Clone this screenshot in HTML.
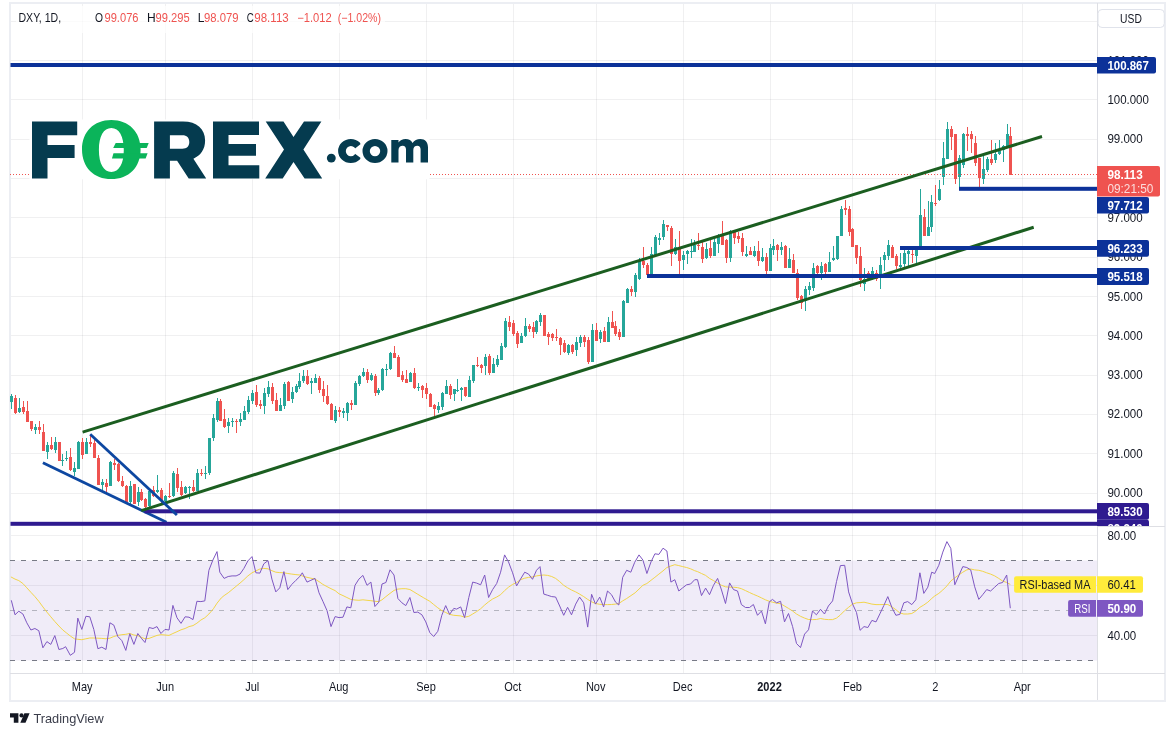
<!DOCTYPE html>
<html><head><meta charset="utf-8"><title>DXY 1D</title>
<style>html,body{margin:0;padding:0;background:#fff;}body{width:1175px;height:736px;overflow:hidden;font-family:"Liberation Sans", sans-serif;}</style>
</head><body>
<svg width="1175" height="736" viewBox="0 0 1175 736" style="display:block;font-family:'Liberation Sans',sans-serif;will-change:transform">
<rect width="1175" height="736" fill="#fff"/>
<g stroke="#2a2e39" stroke-opacity="0.07" stroke-width="1">
<line x1="82.5" y1="3" x2="82.5" y2="673"/>
<line x1="165.5" y1="3" x2="165.5" y2="673"/>
<line x1="252.5" y1="3" x2="252.5" y2="673"/>
<line x1="339.5" y1="3" x2="339.5" y2="673"/>
<line x1="426.5" y1="3" x2="426.5" y2="673"/>
<line x1="513.5" y1="3" x2="513.5" y2="673"/>
<line x1="596.5" y1="3" x2="596.5" y2="673"/>
<line x1="683.5" y1="3" x2="683.5" y2="673"/>
<line x1="770.5" y1="3" x2="770.5" y2="673"/>
<line x1="852.5" y1="3" x2="852.5" y2="673"/>
<line x1="935.5" y1="3" x2="935.5" y2="673"/>
<line x1="1022.5" y1="3" x2="1022.5" y2="673"/>
<line x1="10" y1="21.5" x2="1097" y2="21.5"/>
<line x1="10" y1="60.5" x2="1097" y2="60.5"/>
<line x1="10" y1="99.5" x2="1097" y2="99.5"/>
<line x1="10" y1="139.5" x2="1097" y2="139.5"/>
<line x1="10" y1="178.5" x2="1097" y2="178.5"/>
<line x1="10" y1="217.5" x2="1097" y2="217.5"/>
<line x1="10" y1="257.5" x2="1097" y2="257.5"/>
<line x1="10" y1="296.5" x2="1097" y2="296.5"/>
<line x1="10" y1="335.5" x2="1097" y2="335.5"/>
<line x1="10" y1="375.5" x2="1097" y2="375.5"/>
<line x1="10" y1="414.5" x2="1097" y2="414.5"/>
<line x1="10" y1="453.5" x2="1097" y2="453.5"/>
<line x1="10" y1="493.5" x2="1097" y2="493.5"/>
<line x1="10" y1="535.5" x2="1097" y2="535.5"/>
<line x1="10" y1="585.5" x2="1097" y2="585.5"/>
<line x1="10" y1="635.5" x2="1097" y2="635.5"/>
</g>
<rect x="10" y="3" width="1155" height="698" fill="none" stroke="#eceef3" stroke-width="2"/>
<rect x="10.5" y="560.5" width="1086.5" height="100" fill="#7e57c2" fill-opacity="0.115"/>
<g stroke-width="1" fill="none" shape-rendering="crispEdges">
<line x1="10.2" y1="560.5" x2="1094" y2="560.5" stroke="#787b86" stroke-dasharray="5 6"/>
<line x1="10.2" y1="660.5" x2="1094" y2="660.5" stroke="#787b86" stroke-dasharray="5 6"/>
<line x1="10.2" y1="610.5" x2="1094" y2="610.5" stroke="#787b86" stroke-opacity="0.5" stroke-dasharray="5 6"/>
</g>
<rect x="16" y="6" width="369" height="27" fill="#fff" fill-opacity="0.7"/>
<path d="M11,394h1v15h-1zM10,396h3v6h-3zM19,398h1v15h-1zM18,408h3v4h-3zM35,424h1v10h-1zM34,427h3v3h-3zM47,442h1v17h-1zM46,445h3v7h-3zM55,437h1v16h-1zM54,442h3v8h-3zM62,454h1v12h-1zM61,460h3v1h-3zM66,451h1v10h-1zM65,458h3v1h-3zM74,462h1v14h-1zM73,468h3v4h-3zM78,441h1v28h-1zM77,442h3v27h-3zM86,438h1v16h-1zM85,442h3v12h-3zM102,479h1v11h-1zM101,482h3v3h-3zM110,461h1v25h-1zM109,462h3v24h-3zM130,481h1v23h-1zM129,486h3v16h-3zM138,487h1v19h-1zM137,492h3v10h-3zM149,490h1v17h-1zM148,491h3v15h-3zM157,475h1v18h-1zM156,490h3v2h-3zM165,495h1v7h-1zM164,496h3v5h-3zM173,471h1v26h-1zM172,473h3v23h-3zM185,486h1v8h-1zM184,487h3v6h-3zM189,486h1v13h-1zM188,487h3v1h-3zM197,469h1v22h-1zM196,473h3v18h-3zM205,466h1v13h-1zM204,473h3v1h-3zM209,438h1v37h-1zM208,438h3v35h-3zM213,414h1v27h-1zM212,418h3v20h-3zM217,398h1v24h-1zM216,401h3v19h-3zM228,418h1v15h-1zM227,422h3v4h-3zM232,418h1v9h-1zM231,421h3v1h-3zM240,413h1v13h-1zM239,419h3v3h-3zM244,406h1v14h-1zM243,411h3v9h-3zM248,396h1v18h-1zM247,400h3v12h-3zM252,390h1v14h-1zM251,393h3v8h-3zM264,388h1v26h-1zM263,393h3v13h-3zM268,381h1v16h-1zM267,387h3v7h-3zM280,398h1v13h-1zM279,405h3v6h-3zM284,382h1v27h-1zM283,384h3v22h-3zM292,387h1v16h-1zM291,392h3v7h-3zM296,384h1v9h-1zM295,386h3v6h-3zM299,373h1v16h-1zM298,381h3v6h-3zM303,370h1v13h-1zM302,376h3v5h-3zM311,378h1v16h-1zM310,381h3v2h-3zM315,374h1v9h-1zM314,378h3v5h-3zM335,406h1v17h-1zM334,410h3v11h-3zM343,408h1v10h-1zM342,411h3v2h-3zM347,402h1v19h-1zM346,403h3v10h-3zM355,381h1v24h-1zM354,383h3v22h-3zM359,375h1v11h-1zM358,376h3v8h-3zM363,368h1v9h-1zM362,372h3v4h-3zM371,373h1v8h-1zM370,375h3v5h-3zM378,388h1v7h-1zM377,390h3v3h-3zM382,368h1v23h-1zM381,369h3v21h-3zM386,364h1v12h-1zM385,369h3v1h-3zM390,352h1v18h-1zM389,353h3v16h-3zM410,372h1v10h-1zM409,373h3v9h-3zM418,383h1v8h-1zM417,387h3v1h-3zM438,402h1v11h-1zM437,406h3v4h-3zM442,392h1v18h-1zM441,393h3v14h-3zM446,380h1v14h-1zM445,386h3v8h-3zM454,389h1v12h-1zM453,389h3v5h-3zM457,379h1v13h-1zM456,390h3v1h-3zM461,387h1v14h-1zM460,388h3v2h-3zM469,376h1v21h-1zM468,380h3v17h-3zM473,365h1v18h-1zM472,365h3v16h-3zM485,354h1v21h-1zM484,357h3v9h-3zM493,358h1v15h-1zM492,364h3v9h-3zM497,355h1v12h-1zM496,359h3v6h-3zM501,343h1v17h-1zM500,346h3v14h-3zM505,318h1v30h-1zM504,321h3v26h-3zM521,333h1v10h-1zM520,336h3v7h-3zM525,318h1v19h-1zM524,326h3v10h-3zM536,320h1v14h-1zM535,321h3v11h-3zM540,313h1v13h-1zM539,315h3v7h-3zM568,344h1v11h-1zM567,345h3v8h-3zM576,337h1v19h-1zM575,342h3v8h-3zM580,335h1v12h-1zM579,337h3v6h-3zM592,324h1v38h-1zM591,330h3v32h-3zM600,330h1v13h-1zM599,332h3v7h-3zM608,317h1v25h-1zM607,322h3v20h-3zM623,300h1v37h-1zM622,301h3v36h-3zM627,288h1v15h-1zM626,289h3v14h-3zM635,273h1v24h-1zM634,275h3v17h-3zM639,258h1v22h-1zM638,261h3v18h-3zM651,247h1v28h-1zM650,254h3v21h-3zM655,235h1v20h-1zM654,237h3v18h-3zM659,233h1v12h-1zM658,238h3v2h-3zM663,220h1v20h-1zM662,224h3v13h-3zM675,239h1v16h-1zM674,247h3v7h-3zM683,251h1v19h-1zM682,255h3v5h-3zM687,250h1v14h-1zM686,251h3v3h-3zM691,239h1v19h-1zM690,251h3v1h-3zM694,240h1v12h-1zM693,245h3v7h-3zM706,243h1v16h-1zM705,249h3v9h-3zM714,239h1v17h-1zM713,242h3v14h-3zM718,234h1v19h-1zM717,237h3v7h-3zM730,230h1v32h-1zM729,231h3v27h-3zM746,246h1v11h-1zM745,254h3v2h-3zM754,246h1v11h-1zM753,251h3v5h-3zM762,248h1v14h-1zM761,257h3v4h-3zM770,244h1v27h-1zM769,248h3v23h-3zM773,239h1v16h-1zM772,246h3v4h-3zM781,242h1v13h-1zM780,247h3v3h-3zM789,248h1v20h-1zM788,259h3v9h-3zM805,286h1v25h-1zM804,289h3v12h-3zM809,282h1v13h-1zM808,286h3v4h-3zM813,263h1v28h-1zM812,268h3v20h-3zM821,262h1v18h-1zM820,266h3v7h-3zM829,252h1v20h-1zM828,262h3v10h-3zM833,246h1v15h-1zM832,258h3v2h-3zM837,236h1v24h-1zM836,236h3v23h-3zM841,206h1v30h-1zM840,209h3v27h-3zM864,268h1v23h-1zM863,279h3v5h-3zM872,267h1v13h-1zM871,271h3v8h-3zM880,257h1v32h-1zM879,265h3v9h-3zM884,252h1v19h-1zM883,255h3v5h-3zM888,240h1v20h-1zM887,245h3v11h-3zM900,253h1v15h-1zM899,265h3v2h-3zM904,250h1v17h-1zM903,253h3v11h-3zM908,250h1v16h-1zM907,251h3v3h-3zM916,250h1v13h-1zM915,250h3v6h-3zM920,189h1v57h-1zM919,215h3v31h-3zM928,201h1v35h-1zM927,227h3v9h-3zM931,195h1v37h-1zM930,202h3v25h-3zM939,180h1v21h-1zM938,189h3v11h-3zM943,142h1v43h-1zM942,158h3v19h-3zM947,122h1v37h-1zM946,129h3v30h-3zM959,155h1v32h-1zM958,158h3v19h-3zM963,133h1v35h-1zM962,134h3v31h-3zM983,156h1v28h-1zM982,169h3v10h-3zM987,157h1v15h-1zM986,159h3v11h-3zM995,143h1v20h-1zM994,154h3v6h-3zM999,140h1v15h-1zM998,151h3v3h-3zM1003,145h1v17h-1zM1002,146h3v4h-3zM1007,124h1v22h-1zM1006,134h3v12h-3z" fill="#26a69a" shape-rendering="crispEdges"/>
<path d="M15,395h1v19h-1zM14,398h3v15h-3zM23,401h1v13h-1zM22,407h3v5h-3zM27,401h1v21h-1zM26,411h3v11h-3zM31,421h1v10h-1zM30,421h3v8h-3zM39,421h1v13h-1zM38,427h3v3h-3zM43,424h1v27h-1zM42,432h3v19h-3zM51,437h1v13h-1zM50,445h3v4h-3zM59,442h1v19h-1zM58,442h3v19h-3zM70,448h1v23h-1zM69,457h3v13h-3zM82,438h1v21h-1zM81,442h3v13h-3zM90,436h1v11h-1zM89,442h3v2h-3zM94,440h1v18h-1zM93,443h3v15h-3zM98,455h1v30h-1zM97,458h3v27h-3zM106,479h1v13h-1zM105,483h3v4h-3zM114,459h1v11h-1zM113,463h3v2h-3zM118,463h1v19h-1zM117,464h3v17h-3zM122,476h1v11h-1zM121,481h3v5h-3zM126,485h1v18h-1zM125,486h3v16h-3zM134,484h1v20h-1zM133,484h3v20h-3zM141,489h1v12h-1zM140,492h3v8h-3zM145,498h1v10h-1zM144,499h3v8h-3zM153,486h1v11h-1zM152,490h3v6h-3zM161,488h1v15h-1zM160,490h3v10h-3zM169,483h1v15h-1zM168,496h3v1h-3zM177,468h1v24h-1zM176,474h3v14h-3zM181,481h1v15h-1zM180,487h3v8h-3zM193,480h1v12h-1zM192,487h3v4h-3zM201,469h1v7h-1zM200,473h3v1h-3zM220,399h1v22h-1zM219,401h3v20h-3zM224,409h1v19h-1zM223,419h3v8h-3zM236,419h1v14h-1zM235,421h3v1h-3zM256,385h1v22h-1zM255,392h3v13h-3zM260,400h1v9h-1zM259,404h3v2h-3zM272,383h1v21h-1zM271,387h3v14h-3zM276,393h1v18h-1zM275,400h3v11h-3zM288,381h1v20h-1zM287,382h3v19h-3zM307,370h1v15h-1zM306,376h3v8h-3zM319,376h1v17h-1zM318,378h3v12h-3zM323,381h1v21h-1zM322,389h3v7h-3zM327,385h1v20h-1zM326,396h3v8h-3zM331,403h1v17h-1zM330,404h3v16h-3zM339,407h1v10h-1zM338,410h3v2h-3zM351,400h1v10h-1zM350,403h3v2h-3zM367,369h1v14h-1zM366,372h3v8h-3zM375,374h1v22h-1zM374,376h3v17h-3zM394,346h1v12h-1zM393,353h3v5h-3zM398,355h1v22h-1zM397,357h3v20h-3zM402,371h1v11h-1zM401,375h3v5h-3zM406,370h1v13h-1zM405,379h3v4h-3zM414,368h1v21h-1zM413,373h3v15h-3zM422,385h1v13h-1zM421,386h3v4h-3zM426,383h1v16h-1zM425,388h3v6h-3zM430,393h1v14h-1zM429,394h3v13h-3zM434,404h1v12h-1zM433,405h3v4h-3zM450,384h1v15h-1zM449,386h3v9h-3zM465,387h1v10h-1zM464,387h3v9h-3zM477,357h1v10h-1zM476,365h3v1h-3zM481,364h1v9h-1zM480,365h3v3h-3zM489,354h1v21h-1zM488,356h3v17h-3zM509,316h1v15h-1zM508,322h3v5h-3zM513,320h1v16h-1zM512,323h3v11h-3zM517,331h1v17h-1zM516,333h3v11h-3zM529,324h1v8h-1zM528,326h3v3h-3zM533,322h1v16h-1zM532,327h3v5h-3zM544,315h1v21h-1zM543,315h3v21h-3zM548,332h1v13h-1zM547,334h3v3h-3zM552,333h1v8h-1zM551,334h3v4h-3zM556,329h1v12h-1zM555,337h3v1h-3zM560,337h1v18h-1zM559,338h3v7h-3zM564,340h1v13h-1zM563,343h3v9h-3zM572,344h1v10h-1zM571,345h3v7h-3zM584,335h1v12h-1zM583,337h3v5h-3zM588,337h1v27h-1zM587,340h3v22h-3zM596,323h1v18h-1zM595,330h3v11h-3zM604,327h1v15h-1zM603,331h3v11h-3zM612,311h1v17h-1zM611,322h3v6h-3zM615,321h1v15h-1zM614,326h3v8h-3zM619,329h1v11h-1zM618,332h3v5h-3zM631,286h1v10h-1zM630,289h3v3h-3zM643,247h1v21h-1zM642,261h3v4h-3zM647,263h1v12h-1zM646,265h3v10h-3zM667,225h1v6h-1zM666,225h3v2h-3zM671,226h1v40h-1zM670,228h3v26h-3zM679,231h1v43h-1zM678,249h3v12h-3zM698,233h1v17h-1zM697,245h3v1h-3zM702,242h1v21h-1zM701,247h3v12h-3zM710,240h1v18h-1zM709,248h3v8h-3zM722,221h1v24h-1zM721,236h3v9h-3zM726,239h1v24h-1zM725,240h3v18h-3zM734,231h1v13h-1zM733,232h3v6h-3zM738,232h1v11h-1zM737,236h3v3h-3zM742,233h1v23h-1zM741,238h3v14h-3zM750,247h1v8h-1zM749,251h3v4h-3zM758,241h1v25h-1zM757,251h3v10h-3zM766,253h1v21h-1zM765,257h3v14h-3zM777,244h1v17h-1zM776,245h3v5h-3zM785,245h1v23h-1zM784,246h3v22h-3zM793,254h1v19h-1zM792,260h3v13h-3zM797,269h1v31h-1zM796,273h3v25h-3zM801,295h1v14h-1zM800,296h3v7h-3zM817,265h1v9h-1zM816,266h3v7h-3zM825,263h1v11h-1zM824,264h3v8h-3zM845,200h1v15h-1zM844,208h3v2h-3zM849,206h1v30h-1zM848,209h3v23h-3zM852,228h1v19h-1zM851,229h3v18h-3zM856,245h1v19h-1zM855,245h3v13h-3zM860,247h1v40h-1zM859,256h3v24h-3zM868,271h1v9h-1zM867,273h3v6h-3zM876,270h1v11h-1zM875,273h3v6h-3zM892,245h1v13h-1zM891,247h3v11h-3zM896,254h1v15h-1zM895,256h3v10h-3zM912,250h1v13h-1zM911,254h3v1h-3zM924,209h1v27h-1zM923,217h3v19h-3zM935,185h1v21h-1zM934,203h3v1h-3zM951,126h1v24h-1zM950,129h3v8h-3zM955,134h1v50h-1zM954,134h3v45h-3zM967,127h1v24h-1zM966,134h3v2h-3zM971,131h1v22h-1zM970,134h3v5h-3zM975,136h1v30h-1zM974,143h3v20h-3zM979,158h1v29h-1zM978,158h3v20h-3zM991,140h1v25h-1zM990,159h3v4h-3zM1010,127h1v48h-1zM1009,136h3v39h-3z" fill="#ef5350" shape-rendering="crispEdges"/>
<line x1="10" y1="174.5" x2="1097" y2="174.5" stroke="#ef5350" stroke-width="1" stroke-dasharray="1 2" shape-rendering="crispEdges"/>
<line x1="42.9" y1="462.8" x2="166.5" y2="522.3" stroke="#0d47a1" stroke-width="2.8"/>
<rect x="144.5" y="509.3" width="952.5" height="4" fill="#2f1b90"/>
<rect x="10.5" y="521.8" width="1086.5" height="4" fill="#2f1b90"/>
<line x1="82.6" y1="432.1" x2="1042" y2="136.5" stroke="#1b5e20" stroke-width="3"/>
<line x1="141.3" y1="510.6" x2="1033.7" y2="227.2" stroke="#1b5e20" stroke-width="3"/>
<rect x="10.5" y="63.0" width="1086.5" height="4" fill="#0c3299"/>
<rect x="959" y="186.8" width="138" height="4" fill="#0c3299"/>
<rect x="900" y="246.0" width="197" height="4" fill="#0c3299"/>
<rect x="647" y="274.0" width="450" height="4" fill="#0c3299"/>
<line x1="90.2" y1="434.3" x2="176.9" y2="515" stroke="#0d47a1" stroke-width="2.8"/>
<polyline points="10.9,576.9 15.0,579.1 18.8,580.6 22.9,583.5 26.8,587.8 30.9,592.3 34.9,596.6 38.8,601.3 42.9,606.9 46.9,612.1 50.8,616.8 54.8,621.5 58.9,626.0 62.8,630.0 66.8,633.2 70.3,636.0 74.5,638.8 77.8,639.3 81.8,639.7 85.9,638.8 89.8,638.0 93.8,638.0 97.9,638.2 101.8,638.4 106.0,638.8 109.9,638.2 113.8,636.5 117.8,635.4 121.9,634.7 125.8,634.3 129.8,633.5 133.9,635.0 137.8,635.6 141.8,637.5 145.0,638.8 149.1,638.4 153.0,636.9 157.0,635.4 160.9,634.7 165.0,635.0 169.0,635.4 172.9,633.5 177.0,631.7 181.0,629.8 185.1,628.5 189.0,626.6 193.0,625.6 196.9,623.2 200.9,620.0 204.8,617.8 208.9,614.0 213.4,608.8 217.1,603.1 221.3,597.9 224.1,595.6 228.2,592.8 232.1,589.6 236.1,586.3 240.0,583.1 243.9,579.7 247.9,575.9 252.0,572.8 255.9,570.9 259.9,569.0 263.8,568.4 268.0,568.8 271.9,570.7 275.8,572.2 279.8,572.6 283.9,572.8 287.8,573.5 291.8,574.1 295.9,574.6 299.8,575.0 303.8,576.5 307.0,577.3 310.9,578.2 315.0,579.1 319.0,581.6 322.9,584.4 327.0,586.6 331.0,588.7 335.1,590.6 339.0,593.8 343.0,595.6 346.9,597.5 350.8,599.4 355.0,600.0 358.9,600.3 362.9,599.8 367.0,600.3 370.9,600.7 374.9,601.3 378.8,601.6 382.0,599.8 385.9,596.6 390.0,593.4 394.0,590.4 397.9,589.1 401.9,588.7 405.8,588.7 409.9,589.5 413.9,591.9 417.8,594.3 423.8,597.9 429.8,601.3 433.7,604.5 437.8,607.8 441.8,610.6 445.7,612.5 449.6,614.4 453.8,615.3 460.7,615.9 464.6,617.2 468.8,616.3 472.7,614.0 476.6,611.6 480.6,608.8 484.7,605.0 488.6,601.8 492.6,599.0 496.7,597.0 500.6,594.7 504.6,590.6 508.5,587.2 512.6,584.4 516.6,582.5 520.5,579.7 524.7,578.2 528.6,577.4 532.5,576.9 536.5,575.9 540.0,575.4 543.8,575.0 547.7,575.4 551.7,576.5 555.6,578.4 559.7,581.6 563.7,585.3 567.6,587.8 571.5,590.0 575.7,591.9 579.6,594.1 583.7,596.6 587.7,599.4 591.6,601.8 595.5,603.5 599.7,604.3 603.6,604.6 607.5,604.6 611.5,604.5 615.6,604.1 618.8,603.5 622.7,600.9 626.7,598.5 635.1,592.8 639.0,589.1 642.9,585.3 646.9,583.5 651.0,580.3 654.9,577.3 658.9,574.1 663.0,570.9 666.9,567.5 670.9,566.0 674.8,564.7 678.8,565.6 682.7,566.6 686.6,567.5 690.6,568.8 694.7,570.7 697.5,571.6 701.5,573.5 705.6,575.4 709.5,578.4 713.5,580.6 717.6,583.1 721.5,585.3 725.5,586.8 729.6,587.2 733.5,587.2 737.5,587.6 741.4,588.7 745.5,590.6 749.5,592.5 753.4,594.3 757.5,596.0 761.5,597.9 765.4,599.8 769.3,601.3 772.5,602.2 776.5,603.1 780.6,603.7 784.5,606.0 788.5,608.4 792.6,611.0 796.5,614.0 800.5,616.3 804.6,618.1 808.5,619.5 812.5,619.6 816.4,619.5 820.5,618.5 824.5,619.3 828.4,619.6 832.6,619.6 836.5,618.1 840.0,615.3 844.7,610.6 848.6,607.3 852.6,604.1 856.5,602.8 860.1,602.6 864.0,602.2 867.9,603.1 871.9,604.1 876.0,604.6 879.9,604.6 883.9,604.5 887.8,604.5 892.0,606.9 895.9,609.7 899.8,612.9 903.8,614.0 907.7,614.0 911.8,613.5 915.8,611.0 919.9,607.3 923.8,605.0 927.8,602.2 931.7,598.5 934.7,596.0 938.8,593.4 942.8,590.0 946.9,585.9 950.8,581.0 954.8,577.8 958.7,575.0 962.8,572.2 966.8,569.9 970.7,569.0 974.7,569.9 978.8,570.3 982.7,571.3 986.7,572.8 990.6,574.1 994.7,575.9 998.7,578.4 1002.6,581.0 1006.7,582.5 1010.3,584.4" fill="none" stroke="#f2d54a" stroke-width="1" stroke-linejoin="round"/>
<polyline points="11.3,600.3 15.0,614.8 18.8,611.2 22.9,614.0 26.8,622.8 30.9,630.0 34.9,628.5 38.8,630.7 42.9,647.8 46.9,641.6 50.8,644.4 54.8,635.6 58.9,649.5 62.8,648.5 65.6,646.7 70.3,655.3 74.5,652.3 77.8,618.1 81.8,629.4 85.9,616.3 89.8,616.8 93.8,629.4 97.9,648.7 101.8,647.2 106.0,649.5 109.9,622.8 113.8,625.1 117.8,636.5 121.9,640.7 125.8,650.4 129.8,633.7 133.9,644.4 137.8,633.5 141.8,638.8 145.0,642.5 149.1,627.5 153.0,628.5 157.0,626.6 160.9,633.5 165.0,629.4 169.0,630.0 172.9,605.4 177.0,617.8 181.0,623.4 185.1,616.8 189.0,617.2 193.0,619.6 196.9,601.3 200.9,601.6 204.8,600.9 208.9,570.3 212.9,560.0 217.0,551.6 219.8,572.2 224.1,578.4 228.2,576.5 232.1,575.9 236.1,575.9 240.0,574.1 243.9,568.4 247.9,560.9 252.0,556.6 255.9,572.8 259.9,573.1 263.8,563.8 268.0,560.6 271.9,579.1 275.8,591.9 279.8,587.8 283.9,571.6 287.8,589.6 291.8,584.4 295.9,580.3 299.8,576.5 302.3,572.8 307.0,582.1 310.9,580.3 315.0,578.4 319.0,592.8 322.9,601.3 327.0,610.6 331.0,626.6 335.1,616.6 339.0,617.6 343.0,617.2 346.9,606.9 350.8,607.8 355.0,585.3 358.9,579.1 362.9,575.4 367.0,585.3 370.9,582.1 374.9,606.5 378.8,602.2 382.0,584.0 385.9,582.5 390.0,569.8 394.0,575.0 397.9,598.5 401.9,602.8 405.8,605.6 409.9,597.5 413.9,612.5 417.8,612.1 421.9,614.8 425.8,621.9 429.8,632.6 433.7,636.5 437.8,631.3 441.8,615.3 445.7,605.6 449.6,614.4 453.8,608.4 456.6,609.1 460.7,606.9 464.6,617.6 468.8,597.5 472.7,582.1 476.6,583.1 480.6,584.8 484.7,575.0 488.6,597.5 492.6,589.6 496.7,583.5 500.6,572.2 504.6,554.9 508.5,561.9 512.6,572.8 516.6,585.9 520.5,579.1 524.7,572.2 528.6,574.1 532.5,579.3 536.5,570.3 540.0,566.6 543.8,594.1 547.7,595.3 551.7,596.6 555.6,597.0 559.7,606.0 563.7,615.3 567.6,607.3 571.5,614.8 575.7,604.1 579.6,597.1 583.7,602.8 587.7,627.1 591.6,594.3 595.5,604.1 599.7,597.1 603.6,606.9 607.5,591.0 611.5,594.7 615.6,602.2 618.8,605.0 622.7,577.3 626.7,570.3 630.8,572.2 634.7,562.3 639.0,554.9 642.9,560.0 646.9,573.5 651.0,561.9 654.9,553.8 658.9,554.4 663.0,548.2 666.9,551.0 670.9,582.1 674.8,579.7 678.8,591.0 682.7,587.8 686.6,584.8 690.6,584.0 694.7,579.7 697.5,579.7 701.5,595.6 705.6,588.1 709.5,594.7 713.5,585.3 717.6,578.4 721.5,590.0 725.5,603.5 729.6,582.9 733.5,589.6 737.5,591.0 741.4,604.6 745.5,607.5 749.5,607.5 753.4,604.5 757.5,615.3 761.5,611.0 765.4,623.8 769.3,601.8 772.5,599.4 776.5,602.8 780.6,601.3 784.5,621.9 788.5,613.5 792.6,626.6 796.5,643.5 800.5,647.6 804.6,634.1 808.5,629.8 812.5,611.0 816.4,614.8 820.5,609.3 824.5,614.0 828.4,606.0 832.6,600.9 836.5,581.6 840.4,565.6 844.7,565.3 848.6,591.9 852.6,604.1 856.5,612.5 860.1,630.3 864.0,626.6 867.9,627.5 871.9,620.4 876.0,621.9 879.9,613.8 883.9,605.4 887.8,596.6 892.0,607.8 895.9,615.3 899.8,614.4 903.8,602.8 907.7,601.6 911.8,604.6 915.8,599.8 919.9,572.8 923.8,593.4 927.8,587.2 931.7,572.2 934.7,573.5 938.8,565.3 942.8,552.1 946.9,541.6 950.8,548.4 954.8,584.8 958.7,575.9 962.8,566.6 966.8,567.5 970.7,569.9 974.7,586.8 978.8,599.4 982.7,594.7 986.7,589.6 990.6,591.0 994.7,587.2 998.7,583.5 1002.6,582.5 1006.7,575.0 1010.3,608.2" fill="none" stroke="#7e57c2" stroke-width="1" stroke-linejoin="round"/>
<rect x="29.5" y="119.5" width="400" height="59.8" fill="#fff"/>
<g fill="#053b4f">
<path d="M32,121.6H77.2V135.2H47.5V144.9H74.6V157.9H47.5V178.4H32Z"/>
<path d="M154.1,121.6H183C197,121.6 205.1,129 205.1,140.6C205.1,149.6 200.6,155.6 193.4,158.7L206.2,178.4H188.7L177.1,160.7H169.9V178.4H154.1ZM169.9,135.2V148.7H182.4C186.9,148.7 189.3,146.1 189.3,142C189.3,137.8 186.9,135.2 182.4,135.2Z" fill-rule="evenodd"/>
<path d="M213,121.6H259V134.9H228.5V144H256V155.7H228.5V165.3H259.3V178.4H213Z"/>
<path d="M265.7,121.6H283.5L293.5,137.1L304,121.6H321.4L303.4,149.6L322.2,178.4H304.6L293.5,162L282.7,178.4H265.2L284,149.6Z"/>
<circle cx="331.3" cy="158.1" r="4.45"/>
<clipPath id="ccut"><path d="M330,130H360.4V144.2L351.6,151.2L360.4,157.7V175H330Z"/></clipPath>
<path clip-path="url(#ccut)" fill-rule="evenodd" d="M338.1,151A12.7,12 0 1 0 363.5,151A12.7,12 0 1 0 338.1,151ZM345.8,151.1A5.1,5.15 0 1 0 356,151.1A5.1,5.15 0 1 0 345.8,151.1Z"/>
<path fill-rule="evenodd" d="M362.5,151A12.5,12 0 1 0 387.5,151A12.5,12 0 1 0 362.5,151ZM369.8,151.1A5.2,5.15 0 1 0 380.2,151.1A5.2,5.15 0 1 0 369.8,151.1Z"/>
<path d="M391.3,140H398.5V142.6C400,140.4 402.5,139 405.6,139C409,139 411.4,140.5 412.5,143.1C414.3,140.5 417,139 420.3,139C425.2,139 428,142.1 428,147.6V162.4H420.6V149.6C420.6,147 419.4,145.7 417.3,145.7C415,145.7 413.3,147.2 413.3,149.9V162.4H406V149.6C406,147 404.8,145.7 402.7,145.7C400.4,145.7 398.5,147.2 398.5,149.9V162.4H391.3Z"/>
</g>
<g fill="#0bb45a">
<path fill-rule="evenodd" d="M82.00,149.50C82.00,131.74 93.72,119.90 111.30,119.90C128.88,119.90 140.60,131.74 140.60,149.50C140.60,167.26 128.88,179.10 111.30,179.10C93.72,179.10 82.00,167.26 82.00,149.50ZM98.90,150.00C98.90,136.39 103.63,128.05 111.35,128.05C119.07,128.05 123.80,136.39 123.80,150.00C123.80,163.61 119.07,171.95 111.35,171.95C103.63,171.95 98.90,163.61 98.90,150.00Z"/>
<path d="M115.7,143H148.7L146.7,148H113.2Z"/>
<path d="M113.5,153.2H147.6L145.6,158.4H111.9Z"/>
</g>

<g fill="none" stroke="#dedfe4" stroke-width="1" shape-rendering="crispEdges">
<line x1="1097.5" y1="3" x2="1097.5" y2="700"/>
<line x1="10" y1="673.5" x2="1165" y2="673.5"/>
<line x1="1097" y1="526.5" x2="1165" y2="526.5"/>
</g>
<!-- legend -->
<g font-size="12px" fill="#131722">
<text x="18.5" y="22.2" textLength="42.6" lengthAdjust="spacingAndGlyphs">DXY, 1D,</text>
<text x="95.1" y="22.2" textLength="8" lengthAdjust="spacingAndGlyphs">O</text>
<text x="147" y="22.2">H</text>
<text x="197.7" y="22.2">L</text>
<text x="246.7" y="22.2" textLength="7" lengthAdjust="spacingAndGlyphs">C</text>
<g fill="#ef5350">
<text x="104.5" y="22.2" textLength="34" lengthAdjust="spacingAndGlyphs">99.076</text>
<text x="155.5" y="22.2" textLength="34.1" lengthAdjust="spacingAndGlyphs">99.295</text>
<text x="204" y="22.2" textLength="34.5" lengthAdjust="spacingAndGlyphs">98.079</text>
<text x="254.3" y="22.2" textLength="34.4" lengthAdjust="spacingAndGlyphs">98.113</text>
<text x="297.2" y="22.2" textLength="34.4" lengthAdjust="spacingAndGlyphs">−1.012</text>
<text x="337.7" y="22.2" textLength="43.3" lengthAdjust="spacingAndGlyphs">(−1.02%)</text>
</g>
</g>
<!-- USD button -->
<rect x="1098" y="9.5" width="66.3" height="18" rx="4" fill="#fff" stroke="#e0e3eb" stroke-width="1"/>
<text transform="translate(1131,22.7) scale(0.86,1)" font-size="12px" fill="#131722" text-anchor="middle">USD</text>
<!-- price axis ticks -->
<g font-size="12px" fill="#131722">
<text x="1107.4" y="65.1" textLength="41.5" lengthAdjust="spacingAndGlyphs">101.000</text>
<text x="1107.4" y="103.9" textLength="41.5" lengthAdjust="spacingAndGlyphs">100.000</text>
<text x="1107.4" y="142.8" textLength="35.3" lengthAdjust="spacingAndGlyphs">99.000</text>
<text x="1107.4" y="221.6" textLength="35.3" lengthAdjust="spacingAndGlyphs">97.000</text>
<text x="1107.4" y="261.4" textLength="35.3" lengthAdjust="spacingAndGlyphs">96.000</text>
<text x="1107.4" y="300.8" textLength="35.3" lengthAdjust="spacingAndGlyphs">95.000</text>
<text x="1107.4" y="339.6" textLength="35.3" lengthAdjust="spacingAndGlyphs">94.000</text>
<text x="1107.4" y="378.9" textLength="35.3" lengthAdjust="spacingAndGlyphs">93.000</text>
<text x="1107.4" y="418.3" textLength="35.3" lengthAdjust="spacingAndGlyphs">92.000</text>
<text x="1107.4" y="457.6" textLength="35.3" lengthAdjust="spacingAndGlyphs">91.000</text>
<text x="1107.4" y="496.6" textLength="35.3" lengthAdjust="spacingAndGlyphs">90.000</text>
<text x="1107.4" y="540" textLength="28.8" lengthAdjust="spacingAndGlyphs">80.00</text>
<text x="1107.4" y="640" textLength="28.8" lengthAdjust="spacingAndGlyphs">40.00</text>
</g>
<!-- price labels -->
<g font-size="12px" font-weight="bold" fill="#fff">
<path d="M1097,57h57a2,2 0 0 1 2,2v12.5a2,2 0 0 1 -2,2h-57z" fill="#0c3299"/>
<text x="1107.4" y="69.5" textLength="41.5" lengthAdjust="spacingAndGlyphs">100.867</text>
<path d="M1097,166h61a2,2 0 0 1 2,2v26.5a2,2 0 0 1 -2,2h-61z" fill="#ef5350"/>
<text x="1107.4" y="179.1" textLength="35.3" lengthAdjust="spacingAndGlyphs">98.113</text>
<text x="1107.4" y="192.7" textLength="46" lengthAdjust="spacingAndGlyphs" font-weight="normal" fill-opacity="0.8">09:21:50</text>
<path d="M1097,197h50a2,2 0 0 1 2,2v12.6a2,2 0 0 1 -2,2h-50z" fill="#0c3299"/>
<text x="1107.4" y="209.7" textLength="35.3" lengthAdjust="spacingAndGlyphs">97.712</text>
<path d="M1097,240h50a2,2 0 0 1 2,2v12.8a2,2 0 0 1 -2,2h-50z" fill="#0c3299"/>
<text x="1107.4" y="252.7" textLength="35.3" lengthAdjust="spacingAndGlyphs">96.233</text>
<path d="M1097,268h50a2,2 0 0 1 2,2v13a2,2 0 0 1 -2,2h-50z" fill="#0c3299"/>
<text x="1107.4" y="280.8" textLength="35.3" lengthAdjust="spacingAndGlyphs">95.518</text>
<clipPath id="pclip"><rect x="1097" y="0" width="78" height="526"/></clipPath>
<g clip-path="url(#pclip)">
<path d="M1097,503h50a2,2 0 0 1 2,2v12.7a2,2 0 0 1 -2,2h-50z" fill="#2f1b90"/><path d="M1097,519.7h50a2,2 0 0 1 2,2v12.7a2,2 0 0 1 -2,2h-50z" fill="#2f1b90"/>
<text x="1107.4" y="515.9" textLength="35.3" lengthAdjust="spacingAndGlyphs">89.530</text>
<text x="1107.4" y="532.9" textLength="35.3" lengthAdjust="spacingAndGlyphs">89.240</text>
</g>
</g>
<!-- RSI labels -->
<g font-size="12px">
<path d="M1016.1,576.2h79.9v16.5h-79.9a2,2 0 0 1 -2,-2v-12.5a2,2 0 0 1 2,-2z" fill="#ffeb3b"/>
<path d="M1097,576.2h44a2,2 0 0 1 2,2v12.5a2,2 0 0 1 -2,2h-44z" fill="#ffeb3b"/>
<text x="1019.6" y="589" fill="#131722" textLength="70.8" lengthAdjust="spacingAndGlyphs">RSI-based MA</text>
<text x="1107.4" y="589" fill="#131722" textLength="28.5" lengthAdjust="spacingAndGlyphs">60.41</text>
<path d="M1070.1,600h25.9v16.7h-25.9a2,2 0 0 1 -2,-2v-12.7a2,2 0 0 1 2,-2z" fill="#7e57c2"/>
<path d="M1097,600h44a2,2 0 0 1 2,2v12.7a2,2 0 0 1 -2,2h-44z" fill="#7e57c2"/>
<text x="1074.2" y="612.8" fill="#fff" textLength="16.2" lengthAdjust="spacingAndGlyphs">RSI</text>
<text x="1107.4" y="612.8" fill="#fff" font-weight="bold" textLength="28.8" lengthAdjust="spacingAndGlyphs">50.90</text>
</g>
<!-- time axis -->
<g font-size="12px" fill="#131722" text-anchor="middle">
<text transform="translate(82.2,690.8) scale(0.92,1)">May</text>
<text transform="translate(165.2,690.8) scale(0.92,1)">Jun</text>
<text transform="translate(252.2,690.8) scale(0.92,1)">Jul</text>
<text transform="translate(338.7,690.8) scale(0.92,1)">Aug</text>
<text transform="translate(426,690.8) scale(0.92,1)">Sep</text>
<text transform="translate(512.8,690.8) scale(0.92,1)">Oct</text>
<text transform="translate(595.7,690.8) scale(0.92,1)">Nov</text>
<text transform="translate(682.6,690.8) scale(0.92,1)">Dec</text>
<text transform="translate(769.5,690.8) scale(0.92,1)" font-weight="bold">2022</text>
<text transform="translate(852.4,690.8) scale(0.92,1)">Feb</text>
<text transform="translate(935.2,690.8) scale(0.92,1)">2</text>
<text transform="translate(1022.2,690.8) scale(0.92,1)">Apr</text>
</g>
<!-- TradingView -->
<g fill="#131722">
<path d="M10,713.2H18.4V722.8H13.8V717.5H10Z"/>
<circle cx="21.5" cy="715.4" r="2.1"/>
<path d="M24.4,713.2H29.6L25.5,722.8H20.3Z"/>
</g>
<text x="33.4" y="722.8" font-size="12.8px" fill="#3a3d4a" textLength="70.3" lengthAdjust="spacingAndGlyphs">TradingView</text>

</svg>
</body></html>
